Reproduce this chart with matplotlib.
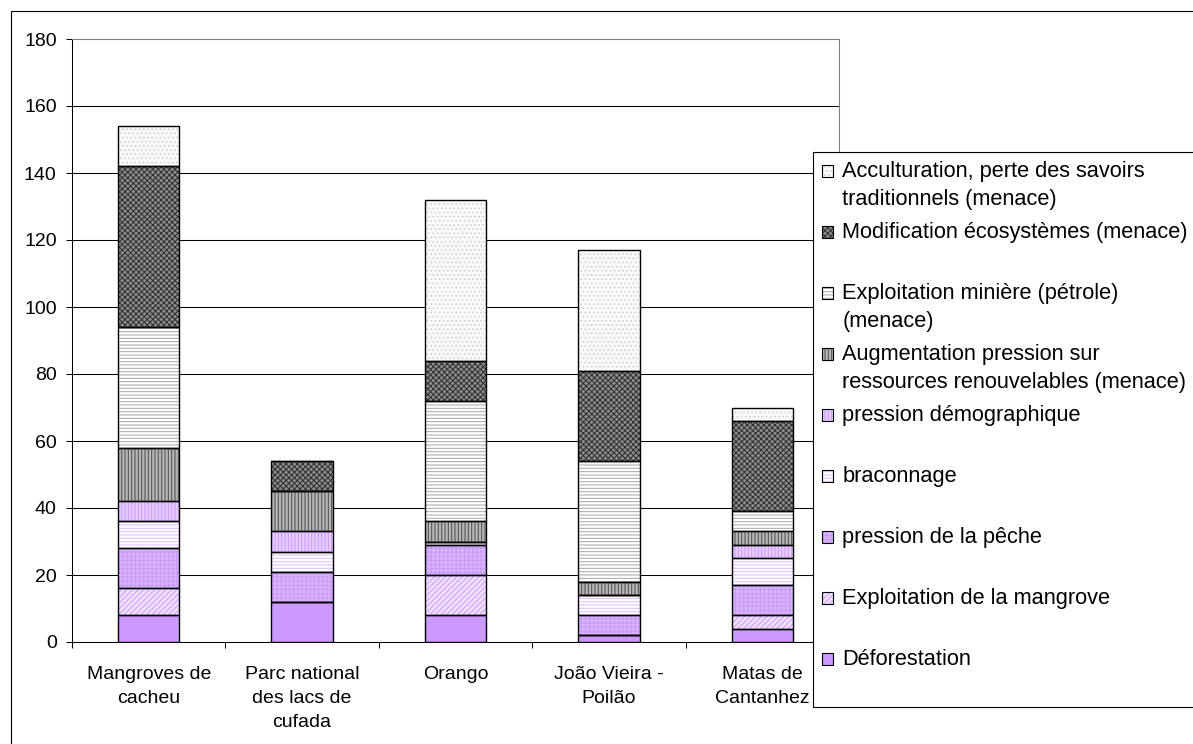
import numpy as np
import matplotlib.pyplot as plt
from matplotlib.patches import Rectangle
from matplotlib.legend_handler import HandlerBase

plt.rcParams['font.family'] = ['Liberation Sans', 'DejaVu Sans']
plt.rcParams['hatch.linewidth'] = 0.7

W, H = 1193, 744

# sites (x axis)
sites = ["Mangroves de\ncacheu", "Parc national\ndes lacs de\ncufada", "Orango",
         "João Vieira -\nPoilão", "Matas de\nCantanhez"]

# pressures, stacked from bottom to top
deforestation = [8, 12, 8, 2, 4]
mangrove = [8, 0, 12, 0, 4]
peche = [12, 9, 9, 6, 9]
braconnage = [8, 6, 1, 6, 8]
demographie = [6, 6, 0, 0, 4]
ressources = [16, 12, 6, 4, 4]
miniere = [36, 0, 36, 36, 6]
ecosystemes = [48, 9, 12, 27, 27]
acculturation = [12, 0, 48, 36, 4]

series = [deforestation, mangrove, peche, braconnage, demographie,
          ressources, miniere, ecosystemes, acculturation]
names = ["Déforestation",
         "Exploitation de la mangrove",
         "pression de la pêche",
         "braconnage",
         "pression démographique",
         "Augmentation pression sur\nressources renouvelables (menace)",
         "Exploitation minière (pétrole)\n(menace)",
         "Modification écosystèmes (menace)",
         "Acculturation, perte des savoirs\ntraditionnels (menace)"]

# (face colour, hatch, hatch colour)
styles = [("#CC99FF", None, "#CC99FF"),
          ("#F0E0FF", "//////", "#CC99FF"),
          ("#D8B4FF", "++++", "#C89AF5"),
          ("white", "-----", "#DDBBFF"),
          ("#E6CCFF", "|||||", "#CC99FF"),
          ("#B4B4B4", "|||||", "#505050"),
          ("white", "-----", "#A6A6A6"),
          ("#8C8C8C", "xxxxxx", "#2E2E2E"),
          ("#FAFAFA", "....", "#D0D0D0")]


class SwatchHandler(HandlerBase):
    # square swatch next to the first line of the label
    def create_artists(self, legend, orig_handle, xdescent, ydescent,
                       width, height, fontsize, trans):
        y0 = -ydescent + 0.69 * fontsize
        fill = Rectangle((-xdescent, y0), width, height,
                         facecolor=orig_handle.get_facecolor(),
                         edgecolor=orig_handle.get_edgecolor(),
                         hatch=orig_handle.get_hatch(), linewidth=0,
                         transform=trans)
        box = Rectangle((-xdescent, y0), width, height, facecolor="none",
                        edgecolor="black", linewidth=0.8, transform=trans)
        return [fill, box]


fig = plt.figure(figsize=(W / 100, H / 100), dpi=100)
ax = fig.add_axes([72 / W, 1 - 642 / H, (839 - 72) / W, (642 - 39) / H])

x = np.arange(len(sites))
bottom = np.zeros(len(sites))
handles = []
for vals, (face, hatch, hcol) in zip(series, styles):
    fills = ax.bar(x, vals, 0.4, bottom=bottom, color=face, edgecolor=hcol,
                   hatch=hatch, linewidth=0, zorder=2)
    ax.bar(x, vals, 0.4, bottom=bottom, fill=False, edgecolor="black",
           linewidth=1.0, zorder=3)
    handles.append(fills.patches[0])
    bottom = bottom + np.array(vals)

ax.set_xlim(-0.5, len(sites) - 0.5)
ax.set_ylim(0, 180)
ax.set_yticks(np.arange(0, 181, 20))
ax.yaxis.grid(True, color="black", linewidth=0.75)
ax.set_axisbelow(True)

ax.set_xticks(x)
ax.set_xticklabels(sites, fontsize=14, linespacing=1.55)
ax.set_xticks(np.arange(-0.5, len(sites), 1), minor=True)
ax.tick_params(axis="x", which="major", length=0, pad=17)
ax.tick_params(axis="x", which="minor", length=4, width=0.75, direction="out")
ax.tick_params(axis="y", length=4, width=0.75, pad=7, labelsize=14)

for side in ["top", "right"]:
    ax.spines[side].set_color("#808080")
    ax.spines[side].set_linewidth(0.75)
for side in ["left", "bottom"]:
    ax.spines[side].set_color("black")
    ax.spines[side].set_linewidth(0.75)

labels = [n if "\n" in n else n + "\n" for n in names]
leg = ax.legend(handles[::-1], labels[::-1], loc="upper left",
                bbox_to_anchor=(813 / W, 1 - 152 / H),
                bbox_transform=fig.transFigure, borderaxespad=0,
                fontsize=15.7, fancybox=False, framealpha=1, edgecolor="black",
                handlelength=0.5, handleheight=0.5, handletextpad=0.45,
                borderpad=0.4, labelspacing=0.52,
                handler_map={Rectangle: SwatchHandler()})
leg.get_frame().set_linewidth(0.8)
for t in leg.get_texts():
    t.set_linespacing(1.48)

# chart area border
fig.add_artist(Rectangle((11 / W, -0.5), 2, 1.5 - 11 / H, fill=False,
                         edgecolor="black", linewidth=0.8,
                         transform=fig.transFigure))

fig.savefig("out.png", dpi=100)
